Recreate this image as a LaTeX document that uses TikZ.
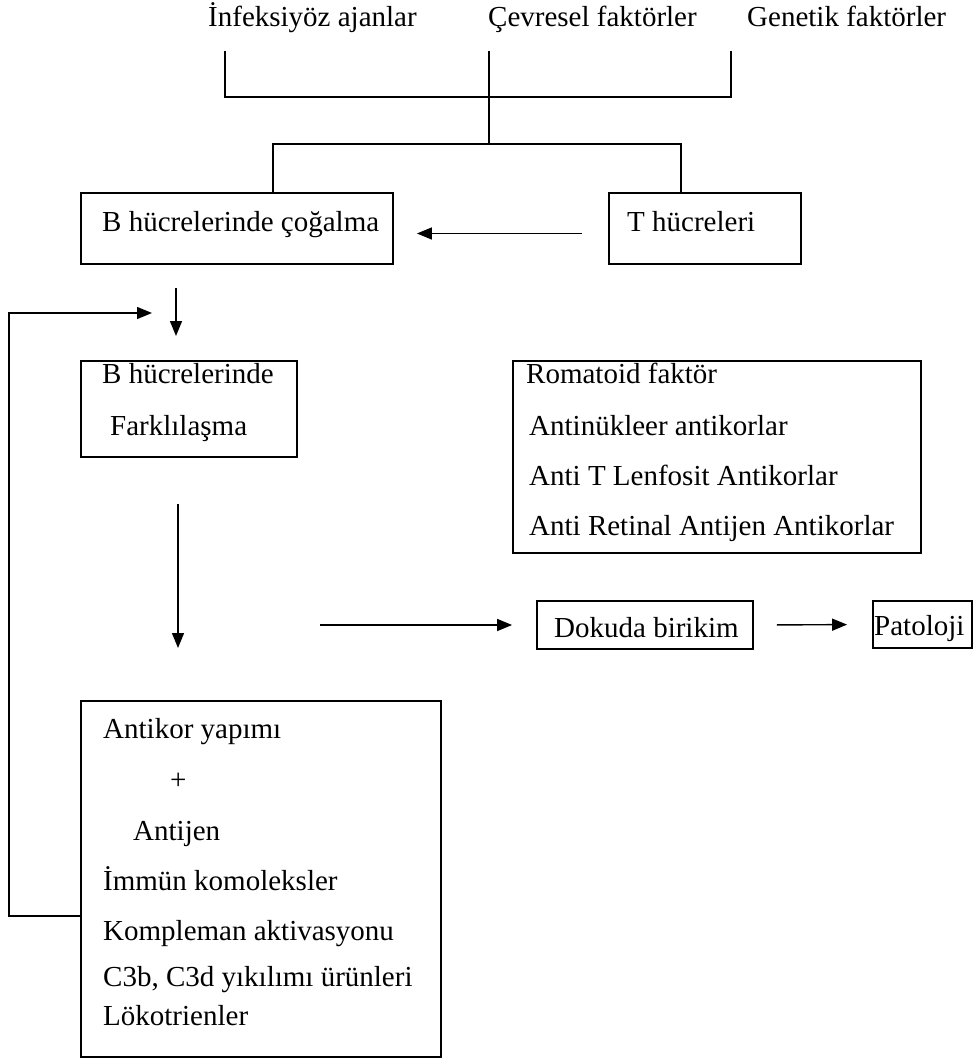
\documentclass[tikz,border=0pt]{standalone}
\usepackage{fontspec}
\setmainfont{Liberation Serif}
\usetikzlibrary{arrows.meta}

\tikzset{
  kutu/.style={draw, line width=1.8pt, rectangle, inner sep=0pt},
  yazi/.style={anchor=base west, inner sep=0pt, font=\fontsize{29}{35}\selectfont},
  ok/.style={line width=1.4pt, -{Triangle[length=15pt,width=12pt]}},
  cizgi/.style={line width=1.8pt}
}

\begin{document}
\begin{tikzpicture}[x=1pt, y=-1pt]
    % Page frame (pixel units, y grows downwards)
    \useasboundingbox (0,0) rectangle (973,1059);

    % Causes at the top
    \node[yazi] (inf)   at (208,27) {İnfeksiyöz ajanlar};
    \node[yazi] (cevre) at (488,27) {Çevresel faktörler};
    \node[yazi] (gen)   at (747,27) {Genetik faktörler};

    % Boxes
    \node[kutu, minimum width=312pt, minimum height=71pt]  (bcog)    at (237,228.5) {};
    \node[kutu, minimum width=192pt, minimum height=71pt]  (tcell)   at (705,228.5) {};
    \node[kutu, minimum width=216pt, minimum height=96pt]  (bfark)   at (189,409) {};
    \node[kutu, minimum width=408pt, minimum height=192pt] (romat)   at (717,457) {};
    \node[kutu, minimum width=216pt, minimum height=48pt]  (doku)    at (645,625) {};
    \node[kutu, minimum width=99pt,  minimum height=47pt]  (pato)    at (922.5,624.5) {};
    \node[kutu, minimum width=360pt, minimum height=356pt] (antikor) at (261,879) {};

    % Texts in the boxes
    \node[yazi] (tbcog)  at (102,232) {B hücrelerinde çoğalma};
    \node[yazi] (ttcell) at (627,232) {T hücreleri};
    \node[yazi] (tb1)    at (102,383) {B hücrelerinde};
    \node[yazi] (tb2)    at (110,435) {Farklılaşma};
    \node[yazi] (tr1)    at (526,383) {Romatoid faktör};
    \node[yazi] (tr2)    at (529,435) {Antinükleer antikorlar};
    \node[yazi] (tr3)    at (529,485) {Anti T Lenfosit Antikorlar};
    \node[yazi] (tr4)    at (529,535) {Anti Retinal Antijen Antikorlar};
    \node[yazi] (tdoku)  at (554,637) {Dokuda birikim};
    \node[yazi] (tpato)  at (874,635) {Patoloji};
    \node[yazi] (ta1)    at (103,738) {Antikor yapımı};
    \node[yazi] (ta2)    at (170,789) {+};
    \node[yazi] (ta3)    at (133,840) {Antijen};
    \node[yazi] (ta4)    at (103,890) {İmmün komoleksler};
    \node[yazi] (ta5)    at (103,940) {Kompleman aktivasyonu};
    \node[yazi] (ta6)    at (103,986) {C3b, C3d yıkılımı ürünleri};
    \node[yazi] (ta7)    at (103,1025) {Lökotrienler};

    % Junctions of the tree
    \coordinate (j1) at (489,97);
    \coordinate (j2) at (489,144);
    \coordinate (c1) at (225,51);
    \coordinate (c2) at (489,51);
    \coordinate (c3) at (731,51);

    % Tree lines
    \draw[cizgi] (c1) |- (j1) -| (c3);
    \draw[cizgi] (c2) -- (j2);
    \draw[cizgi] ([xshift=36pt]bcog.north) |- (j2) -| ([xshift=-24pt]tcell.north);

    % T cells help B cells
    \draw[ok, shorten <=26pt, shorten >=23pt] ([yshift=-5pt]tcell.west) -- ([yshift=-5pt]bcog.east);

    % Down arrows
    \coordinate (d1) at (176,288);
    \coordinate (d2) at (176,336);
    \draw[ok] (d1) -- (d2);
    \coordinate (d3) at (178,504);
    \coordinate (d4) at (178,648);
    \draw[ok] (d3) -- (d4);

    % Feedback loop back to the top
    \coordinate (fb) at (152,313);
    \draw[ok] (antikor.west |- 0,916) -- (9,916) |- (fb);

    % Deposit and pathology
    \coordinate (h1) at (320,625);
    \draw[ok] (h1) -- ([xshift=-24pt]doku.west);
    \draw[ok, shorten <=23pt, shorten >=25pt] (doku.east) -- (pato.west);

\end{tikzpicture}
\end{document}
